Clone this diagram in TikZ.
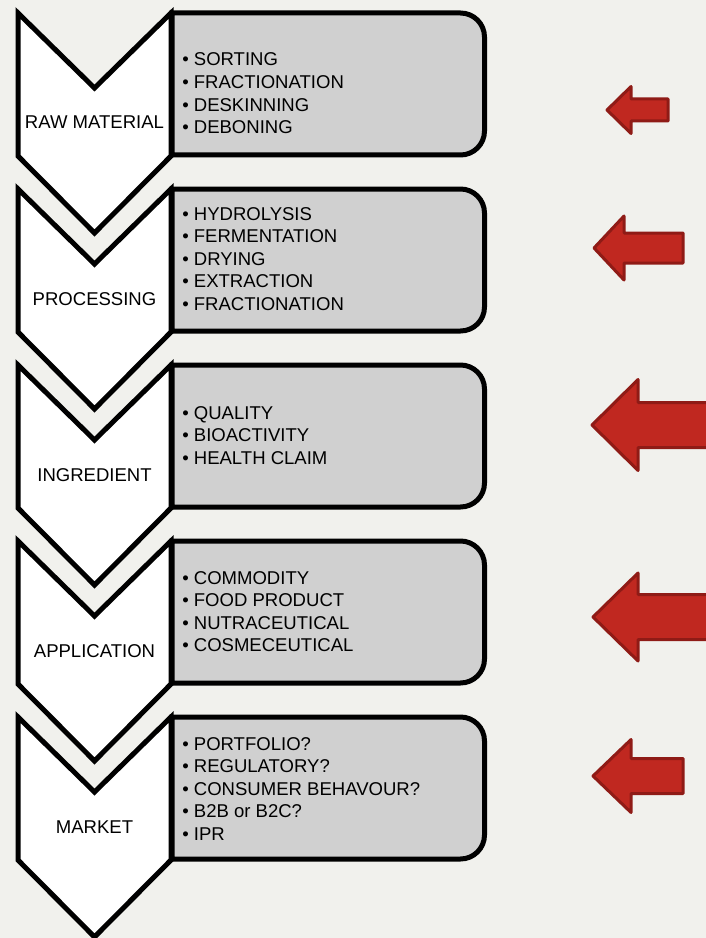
\documentclass[tikz,border=0pt]{standalone}
\usepackage{fontspec}
\setmainfont{Liberation Sans}

\definecolor{fond}{RGB}{241,241,237}
\definecolor{boxgray}{RGB}{208,208,208}
\definecolor{redfill}{RGB}{192,40,32}
\definecolor{redline}{RGB}{143,27,22}

\tikzset{
  stagelabel/.style={anchor=base,inner sep=0pt,font=\fontsize{13.9}{17}\selectfont},
  item/.style={anchor=base west,inner sep=0pt,font=\fontsize{13.9}{17}\selectfont},
  chevron/.style={draw=black,line width=3.75pt,fill=white,line join=miter},
  stepbox/.style={draw=black,line width=3.75pt,fill=boxgray},
  redarrow/.style={draw=redline,fill=redfill,line width=2.25pt,line join=round}
}

\begin{document}
\begin{tikzpicture}[x=0.75pt,y=-0.75pt]

% fond
        \fill[fond] (0,0) rectangle (706,938);
        \clip (0,0) rectangle (706,938);

% Variables: top, name, label, first baseline, items
        \def\mkStage#1#2#3#4#5{
            \def\ytop{#1}

   % Box
            \draw[stepbox] (172,\ytop+142) -- (172,\ytop) [rounded corners=18pt] -- (484.5,\ytop) -- (484.5,\ytop+142) [sharp corners] -- cycle;

   % Chevron
            \draw[chevron] (18,\ytop) -- (94.5,\ytop+75) -- (171,\ytop) -- (171,\ytop+143) -- (94.5,\ytop+220) -- (18,\ytop+143) -- cycle;

            \node[stagelabel] (#2) at (94.5,\ytop+116) {#3};
            \foreach \txt [count=\k from 0] in {#5}
                \node[item] (#2-\k) at (182,#4+22.6*\k) {\textbullet\ \txt};
}

\mkStage{13}{raw}{RAW MATERIAL}{66}{SORTING,FRACTIONATION,DESKINNING,DEBONING};
\mkStage{189}{proc}{PROCESSING}{220}{HYDROLYSIS,FERMENTATION,DRYING,EXTRACTION,FRACTIONATION};
\mkStage{365}{ingr}{INGREDIENT}{419}{QUALITY,BIOACTIVITY,HEALTH CLAIM};
\mkStage{541}{appl}{APPLICATION}{584}{COMMODITY,FOOD PRODUCT,NUTRACEUTICAL,COSMECEUTICAL};
\mkStage{717}{mark}{MARKET}{750}{PORTFOLIO?,REGULATORY?,CONSUMER BEHAVOUR?,B2B or B2C?,IPR};

% Fleches: tip x, mid y, head back x, head half, shaft half, tail x
        \def\redArrow#1#2#3#4#5#6{
            \draw[redarrow] (#1,#2) -- (#3,#2-#4) -- (#3,#2-#5) -- (#6,#2-#5) -- (#6,#2+#5) -- (#3,#2+#5) -- (#3,#2+#4) -- cycle;
}

\redArrow{607}{110}{631}{23.5}{11}{668};
\redArrow{594}{248}{624}{32}{15}{683};
\redArrow{592}{425}{638}{45.5}{22.5}{720};
\redArrow{593}{617}{638}{44}{22.5}{720};
\redArrow{593}{776}{631}{36.5}{17.5}{683};

\end{tikzpicture}
\end{document}
